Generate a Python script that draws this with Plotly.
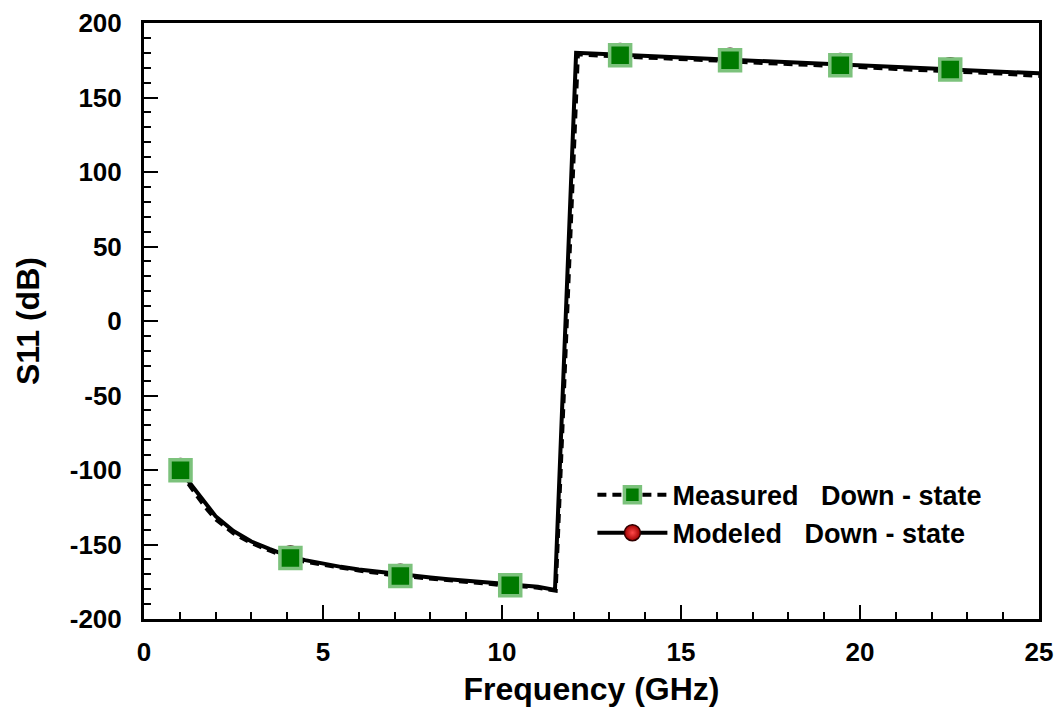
import plotly.graph_objects as go

# Modeled curve
freq_mod = [1.0, 1.25, 1.5, 1.75, 2.0, 2.5, 3.0, 3.5, 4.0, 4.5, 5.0, 5.5, 6.0, 6.5,
            7.0, 7.5, 8.0, 8.5, 9.0, 9.5, 10.0, 10.5, 11.0, 11.48, 12.07, 13.0, 14.0,
            15.0, 16.0, 17.0, 18.0, 19.0, 20.0, 21.0, 22.0, 23.0, 24.0, 25.0]
s11_mod = [-100, -108, -116, -124, -131, -141, -148, -153, -157.5, -160.5, -163, -165,
           -166.8, -168.3, -169.8, -171, -172.2, -173.3, -174.3, -175.3, -176.3, -177.3,
           -178.3, -180.5, 180, 179, 178, 177, 175.8, 174.8, 173.6, 172.5, 171.4, 170.4,
           169.4, 168.3, 167.2, 166.2]

# Measured curve (dashed)
freq_meas = [1.0, 1.25, 1.5, 1.75, 2.0, 2.5, 3.0, 3.5, 4.0, 4.5, 5.0, 5.5, 6.0, 6.5,
             7.0, 7.5, 8.0, 8.5, 9.0, 9.5, 10.0, 10.5, 11.0, 11.5, 12.12, 13.0, 14.0,
             15.0, 16.0, 17.0, 18.0, 19.0, 20.0, 21.0, 22.0, 23.0, 24.0, 25.0]
s11_meas = [-101, -110, -118, -126, -133, -142.5, -149, -154, -158.5, -161.5, -163.5,
            -165.8, -167.5, -169, -170.8, -171.8, -173, -174, -175, -176, -177.2, -178,
            -179, -181, 179, 177.8, 177, 175.8, 174.8, 173.5, 172.6, 171.3, 170.4, 169.2,
            168.3, 167, 166, 164.5]

# Marker positions (measured squares and modeled spheres)
freq_pts = [1.02, 4.09, 7.16, 10.23, 13.3, 16.37, 19.45, 22.52]
s11_pts_meas = [-100.2, -159, -171.2, -177.4, 178.3, 175.0, 171.6, 168.8]
s11_pts_mod = [-99.0, -157.8, -170.0, -176.4, 179.6, 176.3, 172.8, 170.0]

# Tick labels
x_tickvals = [0, 5, 10, 15, 20, 25]
x_ticktext = ["0", "5", "10", "15", "20", "25"]
y_tickvals = [-200, -150, -100, -50, 0, 50, 100, 150, 200]
y_ticktext = ["-200", "-150", "-100", "-50", "0", "50", "100", "150", "200"]

font_family = "Arial, Liberation Sans, sans-serif"

fig = go.Figure()

sq_marker = dict(symbol="square", size=21, color="#007a00",
                 line=dict(color="#7cc27c", width=3.5))
sphere_marker = dict(symbol="circle", size=20, color="#a00000",
                     gradient=dict(type="radial", color="#ff4a4a"),
                     line=dict(color="#300000", width=1.5))

# Modeled line (solid)
fig.add_trace(go.Scatter(
    x=freq_mod, y=s11_mod, mode="lines",
    line=dict(color="black", width=4),
    showlegend=False, hoverinfo="skip"))

# Measured line (dashed)
fig.add_trace(go.Scatter(
    x=freq_meas, y=s11_meas, mode="lines",
    line=dict(color="black", width=4, dash="9px,6px"),
    showlegend=False, hoverinfo="skip"))

# Modeled spheres
fig.add_trace(go.Scatter(
    x=freq_pts, y=s11_pts_mod, mode="markers",
    marker=sphere_marker, showlegend=False))

# Measured squares
fig.add_trace(go.Scatter(
    x=freq_pts, y=s11_pts_meas, mode="markers",
    marker=sq_marker, showlegend=False))

# Legend entries
fig.add_trace(go.Scatter(
    x=[None], y=[None], mode="lines+markers",
    name="Measured\u00a0\u00a0\u00a0Down - state",
    line=dict(color="black", width=4, dash="9px,6px"),
    marker=sq_marker))
fig.add_trace(go.Scatter(
    x=[None], y=[None], mode="lines+markers",
    name="Modeled\u00a0\u00a0\u00a0Down - state",
    line=dict(color="black", width=4),
    marker=sphere_marker))

axis_common = dict(
    showgrid=False, zeroline=False, showline=True, linecolor="black", linewidth=3,
    mirror=True, ticks="inside", ticklen=14, tickwidth=1.5, tickcolor="black",
    automargin=False,
    tickfont=dict(family=font_family, size=26, color="black", weight="bold"),
)

fig.update_xaxes(
    range=[0, 25], tickmode="array", tickvals=x_tickvals, ticktext=x_ticktext,
    minor=dict(ticks="inside", ticklen=7, tickwidth=1.5, tickcolor="black",
               tickmode="linear", tick0=0, dtick=1),
    title=dict(text="Frequency (GHz)", standoff=12,
               font=dict(family=font_family, size=32, color="black", weight="bold")),
    ticklabelstandoff=8,
    **axis_common)
fig.update_yaxes(
    range=[-200, 200], tickmode="array", tickvals=y_tickvals, ticktext=y_ticktext,
    minor=dict(ticks="inside", ticklen=7, tickwidth=1.5, tickcolor="black",
               tickmode="linear", tick0=-200, dtick=10),
    ticklabelstandoff=14,
    **axis_common)

# Y-axis title as rotated annotation
fig.add_annotation(
    text="S11 (dB)", textangle=-90, showarrow=False,
    xref="paper", yref="paper", x=-0.1295, y=0.5, xanchor="center", yanchor="middle",
    font=dict(family=font_family, size=32, color="black", weight="bold"))

fig.update_layout(
    width=1061, height=710,
    margin=dict(l=144, r=22, t=23, b=91),
    paper_bgcolor="white", plot_bgcolor="white",
    font=dict(family=font_family, color="black"),
    legend=dict(x=0.501, y=0.249, xanchor="left", yanchor="top",
                bgcolor="rgba(0,0,0,0)",
                font=dict(family=font_family, size=27, color="black", weight="bold"),
                itemwidth=70, tracegroupgap=0),
)

fig.write_html("out.html",
               config={"displayModeBar": False},
               post_script="document.body.style.margin='0';"
                           "document.body.style.overflow='hidden';")
